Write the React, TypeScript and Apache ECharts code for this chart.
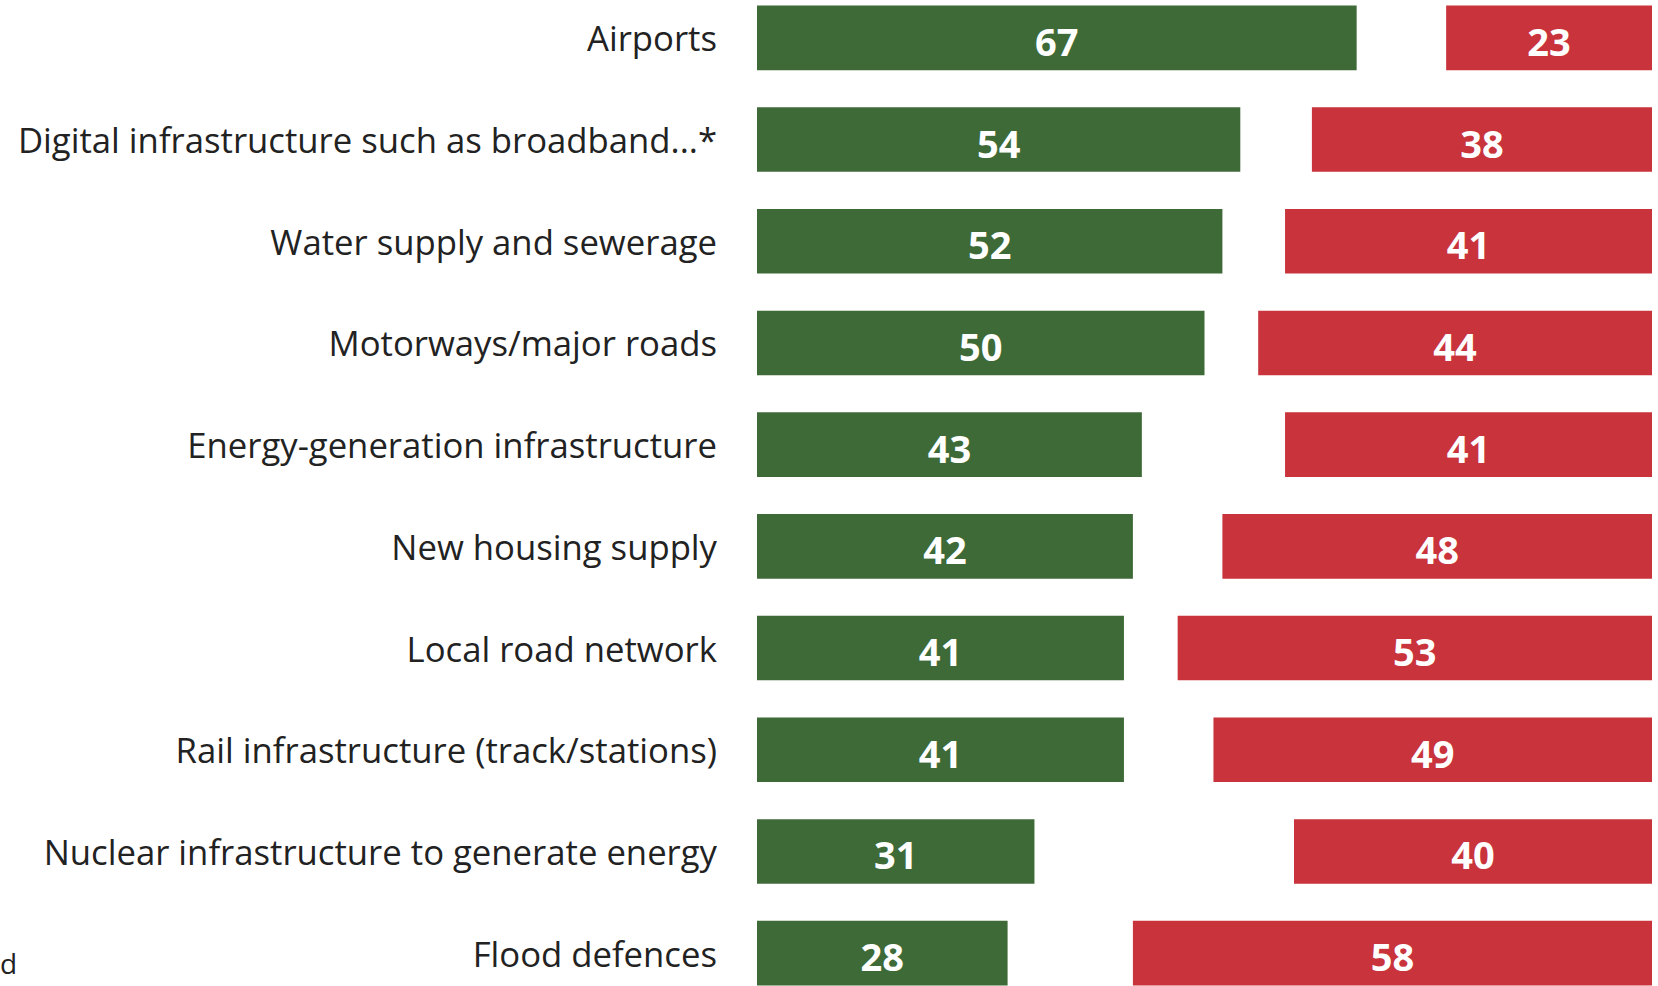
import React, { useEffect, useRef } from "react";
import * as echarts from "echarts";

const categories = [
  "Airports",
  "Digital infrastructure such as broadband...*",
  "Water supply and sewerage",
  "Motorways/major roads",
  "Energy-generation infrastructure",
  "New housing supply",
  "Local road network",
  "Rail infrastructure (track/stations)",
  "Nuclear infrastructure to generate energy",
  "Flood defences",
];
const greenValues = [67, 54, 52, 50, 43, 42, 41, 41, 31, 28];
const redValues = [23, 38, 41, 44, 41, 48, 53, 49, 40, 58];

const GREEN = "#3E6A37";
const RED = "#C9333B";

const OFFSET = 13;

export default function App() {
  const ref = useRef<HTMLDivElement>(null);
  useEffect(() => {
    if (!ref.current) return;
    const chart = echarts.init(ref.current, undefined, { renderer: "svg" });
    const gridCommon = { top: 0, height: 1017, left: 757, width: 895 };
    const valueLabel = {
      show: true,
      position: "inside" as const,
      color: "#ffffff",
      fontFamily: "Open Sans",
      fontWeight: "bold" as const,
      fontSize: 38,
      offset: [0, 3],
    };
    chart.setOption({
      animation: false,
      backgroundColor: "#ffffff",
      grid: [{ ...gridCommon }, { ...gridCommon }],
      xAxis: [
        { type: "value", gridIndex: 0, min: 0, max: 100, show: false },
        { type: "value", gridIndex: 1, min: 0, max: 100, inverse: true, show: false },
      ],
      yAxis: [
        {
          type: "category",
          gridIndex: 0,
          data: categories,
          inverse: true,
          axisLine: { show: false },
          axisTick: { show: false },
          splitLine: { show: false },
          axisLabel: {
            margin: 40,
            color: "#222222",
            fontFamily: "Open Sans",
            fontSize: 34.7,
            offset: [0, -2],
          },
        },
        {
          type: "category",
          gridIndex: 1,
          data: categories,
          inverse: true,
          show: false,
        },
      ],
      series: [
        {
          type: "bar",
          name: "Green",
          xAxisIndex: 0,
          yAxisIndex: 0,
          data: greenValues,
          barCategoryGap: "36.5%",
          itemStyle: { color: GREEN },
          label: valueLabel,
        },
        {
          type: "bar",
          name: "Red",
          xAxisIndex: 1,
          yAxisIndex: 1,
          data: redValues,
          barCategoryGap: "36.5%",
          itemStyle: { color: RED },
          label: valueLabel,
        },
      ],
      graphic: [
        {
          type: "text",
          x: 0,
          y: 963 + OFFSET,
          style: {
            text: "d",
            fill: "#222222",
            font: "28px 'Open Sans'",
            textAlign: "left",
            textVerticalAlign: "middle",
          },
        },
      ],
    });
    return () => chart.dispose();
  }, []);
  return (
    <div style={{ position: "fixed", left: 0, top: 0, width: 1658, height: 986, overflow: "hidden", background: "#fff" }}>
      <div
        ref={ref}
        style={{ position: "absolute", left: 0, top: -OFFSET, width: 1658, height: 1030 }}
      />
    </div>
  );
}
